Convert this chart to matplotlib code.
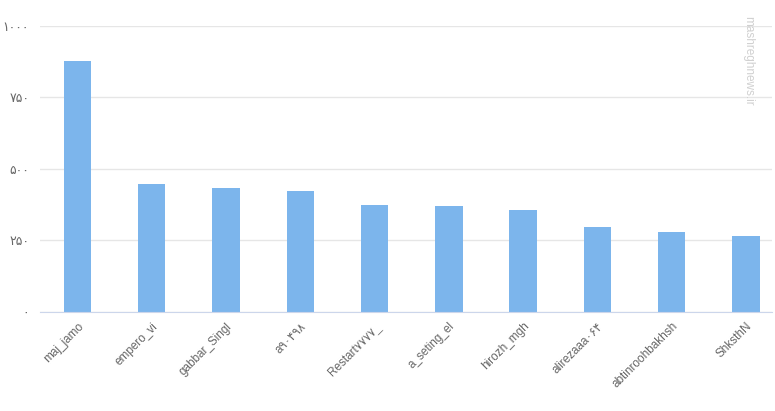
"""Bar chart of top users (mashreghnews)"""
import matplotlib.pyplot as plt

users = ['maj_jamo', 'empero_vi', 'gabbar_Singl', 'a۹۰۴۹۸', 'Restart۷۷۷۷_',
         'a_seting_el', 'hirozh_mgh', 'alirezaaa۰۶۴', 'abtinroohbakhsh', 'ShksthN']
counts = [877, 448, 434, 423, 374, 371, 357, 297, 280, 266]
yticks = [0, 250, 500, 750, 1000]
ytick_labels = ['۰', '۲۵۰', '۵۰۰', '۷۵۰', '۱۰۰۰']

plt.rcParams['font.family'] = ['Liberation Sans', 'DejaVu Sans']

fig = plt.figure(figsize=(7.75, 4.11), dpi=100)
ax = fig.add_axes([0.052, 0.241, 0.944, 0.696])

x = range(len(users))
ax.bar(x, counts, width=0.37, color='#7cb5ec', zorder=2)

ax.set_ylim(0, 1000)
ax.set_xlim(-0.5, 9.35)
ax.set_yticks(yticks)
ax.set_yticklabels(ytick_labels, fontsize=9, color='#666666', family=['DejaVu Sans'])
ax.set_xticks(list(x))
ax.set_xticklabels(users, rotation=45, ha='right', rotation_mode='anchor',
                   fontsize=8.5, color='#666666')
ax.tick_params(axis='both', length=0)
ax.tick_params(axis='y', pad=8)
ax.tick_params(axis='x', pad=6)

ax.grid(axis='y', color='#e6e6e6', linewidth=1, zorder=0)
for s in ['top', 'right', 'left']:
    ax.spines[s].set_visible(False)
ax.spines['bottom'].set_color('#ccd6eb')
ax.spines['bottom'].set_zorder(3)

# watermark
fig.text(0.966, 0.96, 'mashreghnews.ir', rotation=-90, ha='center', va='top',
         fontsize=8.5, color='#d0d0d0')

fig.savefig('out.png', dpi=100)
